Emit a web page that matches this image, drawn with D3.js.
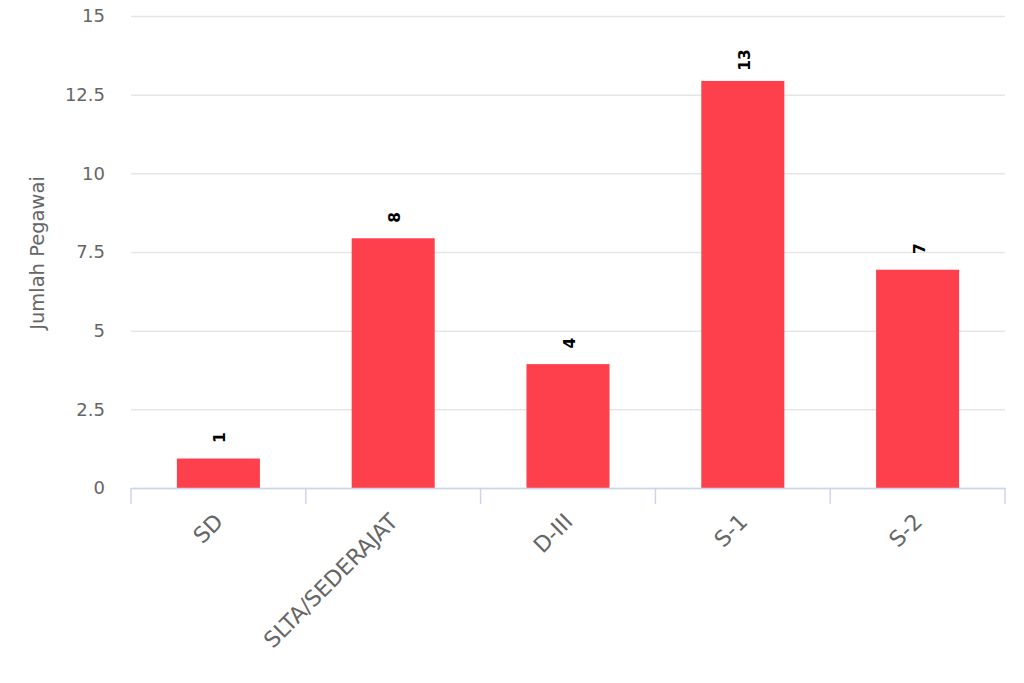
<!DOCTYPE html>
<html>
<head>
<meta charset="utf-8">
<script src="https://cdn.jsdelivr.net/npm/d3@7"></script>
<style>
  body { margin: 0; background: #fff; }
  svg text { font-family: "DejaVu Sans", sans-serif; }
</style>
</head>
<body>
<script>
const W = 1024, H = 683;
const categories = ['SD', 'SLTA/SEDERAJAT', 'D-III', 'S-1', 'S-2'];
const values = [1, 8, 4, 13, 7];
const yTicks = [0, 2.5, 5, 7.5, 10, 12.5, 15];
const yTitle = 'Jumlah Pegawai';

const margin = { top: 16, right: 19, bottom: 195, left: 131 };
const iw = W - margin.left - margin.right;
const ih = H - margin.top - margin.bottom;

const svg = d3.select('body').append('svg')
    .attr('width', W)
    .attr('height', H);

const g = svg.append('g')
    .attr('transform', `translate(${margin.left},${margin.top})`);

const x = d3.scaleBand().domain(categories).range([0, iw]);
const y = d3.scaleLinear().domain([0, 15]).range([ih, 0]);

// gridlines + y labels
const yAxis = g.append('g')
    .call(d3.axisLeft(y).tickValues(yTicks).tickSize(-iw).tickPadding(26).tickFormat(d3.format('')));
yAxis.select('.domain').remove();
yAxis.selectAll('.tick line').attr('stroke', '#e6e6e6').attr('stroke-width', 1.5);
yAxis.selectAll('.tick text').attr('fill', '#666').style('font-size', '18px');

// bars
const barW = x.bandwidth() * 0.475;
g.selectAll('rect.bar')
  .data(values)
  .join('rect')
    .attr('class', 'bar')
    .attr('x', (d, i) => x(categories[i]) + (x.bandwidth() - barW) / 2)
    .attr('y', d => y(d) + 2)
    .attr('width', barW)
    .attr('height', d => ih - y(d) - 2)
    .attr('fill', '#fe3f4c');

// data labels
g.selectAll('text.val')
  .data(values)
  .join('text')
    .attr('class', 'val')
    .attr('transform', (d, i) => `translate(${x(categories[i]) + x.bandwidth() / 2 + 7},${y(d) + 2 - 21}) rotate(-90)`)
    .attr('text-anchor', 'middle')
    .style('font-size', '15.5px')
    .style('font-weight', 'bold')
    .attr('fill', '#000')
    .text(d => d);

// x axis
const xAxis = g.append('g')
    .attr('transform', `translate(0,${ih})`)
    .call(d3.axisBottom(x).tickSize(0).tickPadding(0));
xAxis.select('.domain').attr('stroke', '#ccd6eb').attr('stroke-width', 1.5);
xAxis.selectAll('.tick text')
    .attr('fill', '#666')
    .style('font-size', '22px')
    .attr('text-anchor', 'end')
    .attr('dy', 0)
    .attr('y', 0)
    .attr('transform', 'translate(6,35) rotate(-45)');

// x tick marks at band edges
const edges = categories.map(c => x(c)).concat([iw]);
g.selectAll('line.xt')
  .data(edges)
  .join('line')
    .attr('class', 'xt')
    .attr('x1', d => d).attr('x2', d => d)
    .attr('y1', ih).attr('y2', ih + 16)
    .attr('stroke', '#ccd6eb')
    .attr('stroke-width', 1.5);

// y title
svg.append('text')
    .attr('transform', `translate(44,${margin.top + ih / 2 + 1}) rotate(-90)`)
    .attr('text-anchor', 'middle')
    .attr('fill', '#666')
    .style('font-size', '19.5px')
    .text(yTitle);
</script>
</body>
</html>
